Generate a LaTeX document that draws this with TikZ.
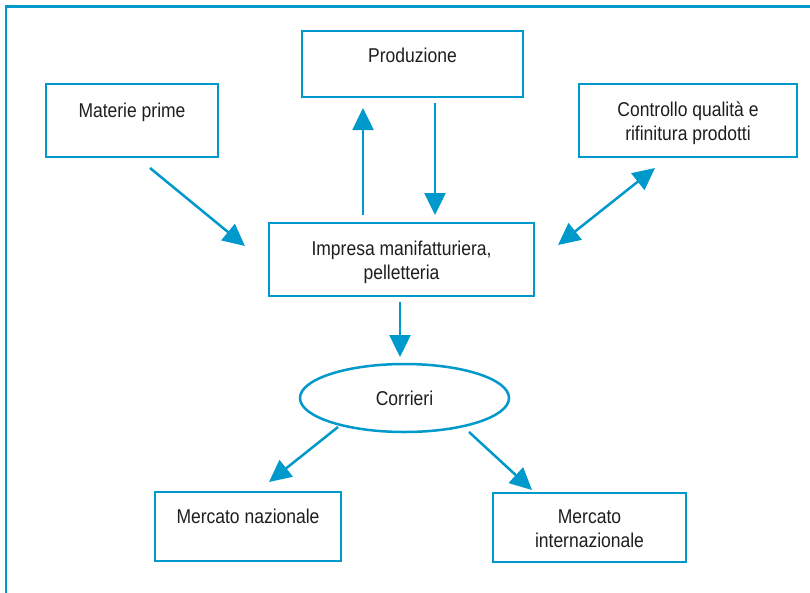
\documentclass[tikz,border=0pt]{standalone}
\usepackage{fontspec}
\setmainfont{Liberation Sans}[FakeStretch=0.875]
\usetikzlibrary{arrows.meta,shapes.geometric,calc}
\definecolor{bl}{RGB}{0,153,204}
\definecolor{tx}{RGB}{30,30,30}
\newcommand{\txt}[1]{\raisebox{-3pt}[\height][\depth]{\begin{tabular}{@{}c@{}}#1\end{tabular}}}
\tikzset{
  boxn/.style={draw=bl, line width=2.5pt, rectangle, inner sep=0pt, align=center,
    text=tx, font=\fontsize{20}{24}\selectfont},
  ell/.style={draw=bl, line width=2.5pt, ellipse, inner sep=0pt, align=center,
    text=tx, font=\fontsize{20}{24}\selectfont},
  arr/.style={draw=bl, line width=2.5pt, -{Triangle[length=22pt,width=21pt]}},
  darr/.style={draw=bl, line width=2.5pt, {Triangle[length=22pt,width=21pt]}-{Triangle[length=22pt,width=21pt]}},
}
\begin{document}
\begin{tikzpicture}[x=1pt,y=-1pt]
\useasboundingbox (0,0) rectangle (810,592);
\clip (0,0) rectangle (810,592);
\fill[white] (0,0) rectangle (810,592);
\draw[bl, line width=2.5pt] (6,6.5) rectangle (840,640);

\node[boxn, minimum width=172pt, minimum height=73pt] (mat) at (132,120.5) {\txt{Materie prime\\[-3pt]\strut}};
\node[boxn, minimum width=221pt, minimum height=66pt] (prod) at (412.5,64) {\txt{Produzione\\[-6pt]\strut}};
\node[boxn, minimum width=218pt, minimum height=73pt] (ctrl) at (688,120.5) {\txt{Controllo qualità e\\rifinitura prodotti}};
\node[boxn, minimum width=265pt, minimum height=73pt] (imp) at (401.5,259.5) {\txt{Impresa manifatturiera,\\pelletteria}};
\node[ell, minimum width=209pt, minimum height=68pt] (cor) at (404.5,398) {Corrieri};
\node[boxn, minimum width=186pt, minimum height=69pt] (naz) at (248,526.5) {\txt{Mercato nazionale\\[-3pt]\strut}};
\node[boxn, minimum width=193pt, minimum height=69pt] (int) at (589.5,527.5) {\txt{Mercato\\internazionale}};

\draw[arr] ($(mat.center)+(18,47.5)$) -- ($(imp.center)+(-156.5,-13.5)$);
\draw[arr] ($(imp.center)+(-38.5,-44.5)$) -- ($(prod.center)+(-49.5,44)$);
\draw[arr] ($(prod.center)+(22.5,39)$) -- ($(imp.center)+(33.5,-44.5)$);
\draw[darr] ($(imp.center)+(156.5,-14.5)$) -- ($(ctrl.center)+(-33,47.5)$);
\draw[arr] ($(imp.center)+(-1.5,42.5)$) -- ($(cor.center)+(-4.5,-41)$);
\draw[arr] ($(cor.center)+(-66.5,29)$) -- ($(naz.center)+(21,-44.5)$);
\draw[arr] ($(cor.center)+(64.5,34)$) -- ($(int.center)+(-57.5,-37.5)$);
\end{tikzpicture}
\end{document}
